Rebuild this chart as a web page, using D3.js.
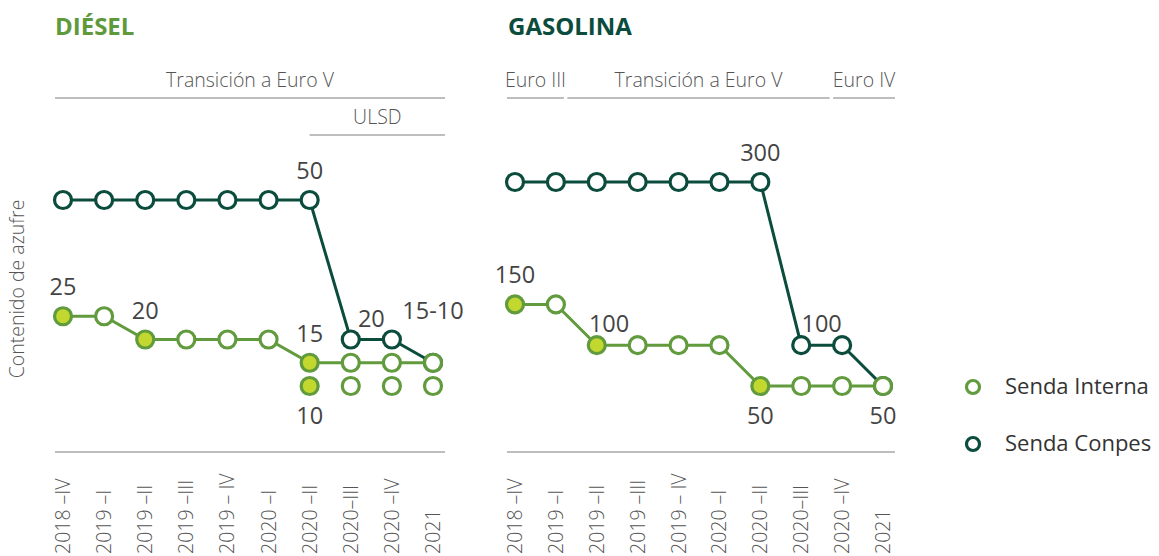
<!DOCTYPE html>
<html>
<head>
<meta charset="utf-8">
<script src="https://cdn.jsdelivr.net/npm/d3@7"></script>
<style>
  html, body { margin: 0; padding: 0; background: #fff; }
  svg { display: block; }
  .thin { font-family: "Open Sans", sans-serif; font-weight: 300; fill: #555; }
  .val { font-family: "Open Sans", sans-serif; font-weight: 400; fill: #444; }
</style>
</head>
<body>
<svg id="chart" width="1159" height="556"></svg>
<script>
// Periods on the horizontal axis
const periods = ["2018 –IV", "2019 –I", "2019 –II", "2019 –III", "2019 – IV",
                 "2020 –I", "2020 –II", "2020–III", "2020 –IV", "2021"];

// Sulphur content (ppm) – diesel
const dieselInterna = [25, 25, 20, 20, 20, 20, 15, 15, 15, 15];
const dieselInternaLow = [null, null, null, null, null, null, 10, 10, 10, 10];
const dieselConpes = [50, 50, 50, 50, 50, 50, 50, 20, 20, 15];

// Sulphur content (ppm) – gasoline
const gasInterna = [150, 150, 100, 100, 100, 100, 50, 50, 50, 50];
const gasConpes = [300, 300, 300, 300, 300, 300, 300, 100, 100, 50];

// Value labels: index of the period, value it sits on, and text
const dieselLabels = [
  { i: 0, v: 25, text: "25", side: "above" },
  { i: 2, v: 20, text: "20", side: "above" },
  { i: 6, v: 15, text: "15", side: "above" },
  { i: 6, v: 10, text: "10", side: "below" },
  { i: 6, v: 50, text: "50", side: "above" },
  { i: 7.5, v: 20, text: "20", side: "above" },
  { i: 9, v: 20, text: "15-10", side: "above" }
];
const gasLabels = [
  { i: 0, v: 150, text: "150", side: "above" },
  { i: 2.3, v: 100, text: "100", side: "above" },
  { i: 6, v: 300, text: "300", side: "above" },
  { i: 7.5, v: 100, text: "100", side: "above" },
  { i: 6, v: 50, text: "50", side: "below" },
  { i: 9, v: 50, text: "50", side: "below" }
];

// Regulatory phases shown above each panel: [first index, last index, text]
const dieselPhases = [
  { from: 0, to: 9, text: "Transición a Euro V", row: 0 },
  { from: 6, to: 9, text: "ULSD", row: 1 }
];
const gasPhases = [
  { from: 0, to: 1, text: "Euro III", row: 0 },
  { from: 1.5, to: 7.5, text: "Transición a Euro V", row: 0 },
  { from: 8, to: 9, text: "Euro IV", row: 0 }
];

const legendItems = ["Senda Interna", "Senda Conpes"];

const C = {
  interna: "#619b3d",
  lime: "#c3d82f",
  conpes: "#0b4c3d",
  rule: "#a9a9a9",
  dieselTitle: "#5e9a3c",
  gasTitle: "#0b4c3d"
};

const svg = d3.select("#chart");

function panel(opt) {
  const g = svg.append("g");
  const x = d3.scalePoint().domain(d3.range(periods.length)).range(opt.xRange);
  const xf = i => x(0) + i * x.step();
  const y = d3.scaleLinear().domain(opt.yDomain).range([386, opt.yTop]);

  // Title
  g.append("text")
    .attr("x", opt.titleX).attr("y", 35)
    .attr("font-family", "'Open Sans', sans-serif").attr("font-weight", 700)
    .attr("font-size", 24).attr("fill", opt.titleColor)
    .text(opt.title);

  // Phase annotations
  opt.phases.forEach(p => {
    const x0 = p.from === 0 ? opt.xRange[0] - 8 : xf(p.from) - (p.row === 1 ? 0 : 9);
    const x1 = p.to === periods.length - 1 ? opt.xRange[1] + 12 : xf(p.to) + 8;
    const lineY = p.row === 0 ? 98 : 135;
    g.append("line").attr("x1", x0).attr("x2", x1)
      .attr("y1", lineY).attr("y2", lineY)
      .attr("stroke", C.rule).attr("stroke-width", 1.5);
    g.append("text").attr("class", "thin")
      .attr("x", (x0 + x1) / 2).attr("y", lineY - 11)
      .attr("text-anchor", "middle").attr("font-size", 19.5)
      .text(p.text);
  });

  // Baseline under the plot
  g.append("line")
    .attr("x1", opt.xRange[0] - 8).attr("x2", opt.xRange[1] + 12)
    .attr("y1", 452).attr("y2", 452)
    .attr("stroke", C.rule).attr("stroke-width", 1.5);

  // Period labels (rotated)
  g.selectAll(".period").data(periods).enter().append("text")
    .attr("class", "thin")
    .attr("font-size", 19.5)
    .attr("transform", (d, i) => `translate(${x(i) + 7},554) rotate(-90)`)
    .attr("text-anchor", "start")
    .text(d => d);

  const line = d3.line()
    .defined(d => d != null)
    .x((d, i) => x(i)).y(d => y(d));

  function series(values, color, connect) {
    if (connect) {
      g.append("path").datum(values)
        .attr("d", line).attr("fill", "none")
        .attr("stroke", color).attr("stroke-width", 3);
    }
    g.selectAll(null).data(values.map((v, i) => ({ v, i })).filter(d => d.v != null))
      .enter().append("circle")
      .attr("cx", d => x(d.i)).attr("cy", d => y(d.v))
      .attr("r", 8.5)
      .attr("stroke", color).attr("stroke-width", 3.2)
      .attr("fill", d => {
        if (color !== C.interna) return "#fff";
        const prev = d.i > 0 ? values[d.i - 1] : null;
        return prev == null || prev !== d.v ? C.lime : "#fff";
      });
  }

  series(opt.conpes, C.conpes, true);
  series(opt.interna, C.interna, true);
  if (opt.internaLow) series(opt.internaLow, C.interna, false);

  // Value labels
  g.selectAll(".val").data(opt.labels).enter().append("text")
    .attr("class", "val")
    .attr("font-size", 23.5)
    .attr("text-anchor", "middle")
    .attr("x", d => xf(d.i))
    .attr("y", d => d.side === "above" ? y(d.v) - (d.i % 1 ? 13 : 21) : y(d.v) + 38)
    .text(d => d.text);
}

panel({
  title: "DIÉSEL", titleX: 55, titleColor: C.dieselTitle,
  xRange: [63, 433], yDomain: [10, 50], yTop: 200,
  interna: dieselInterna, internaLow: dieselInternaLow, conpes: dieselConpes,
  labels: dieselLabels, phases: dieselPhases
});

panel({
  title: "GASOLINA", titleX: 508, titleColor: C.gasTitle,
  xRange: [515, 883], yDomain: [50, 300], yTop: 182,
  interna: gasInterna, conpes: gasConpes,
  labels: gasLabels, phases: gasPhases
});

// Vertical axis title
svg.append("text").attr("class", "thin")
  .attr("font-size", 19.5)
  .attr("transform", "translate(24,289) rotate(-90)")
  .attr("text-anchor", "middle")
  .text("Contenido de azufre");

// Legend
const legend = svg.append("g");
legendItems.forEach((name, k) => {
  const cy = 387 + k * 57;
  legend.append("circle").attr("cx", 973).attr("cy", cy).attr("r", 6.5)
    .attr("fill", "#fff").attr("stroke", k === 0 ? C.interna : C.conpes)
    .attr("stroke-width", 3.2);
  legend.append("text").attr("x", 1005).attr("y", cy + 7)
    .attr("font-family", "'Open Sans', sans-serif").attr("font-size", 22)
    .attr("fill", "#333").text(name);
});
</script>
</body>
</html>
